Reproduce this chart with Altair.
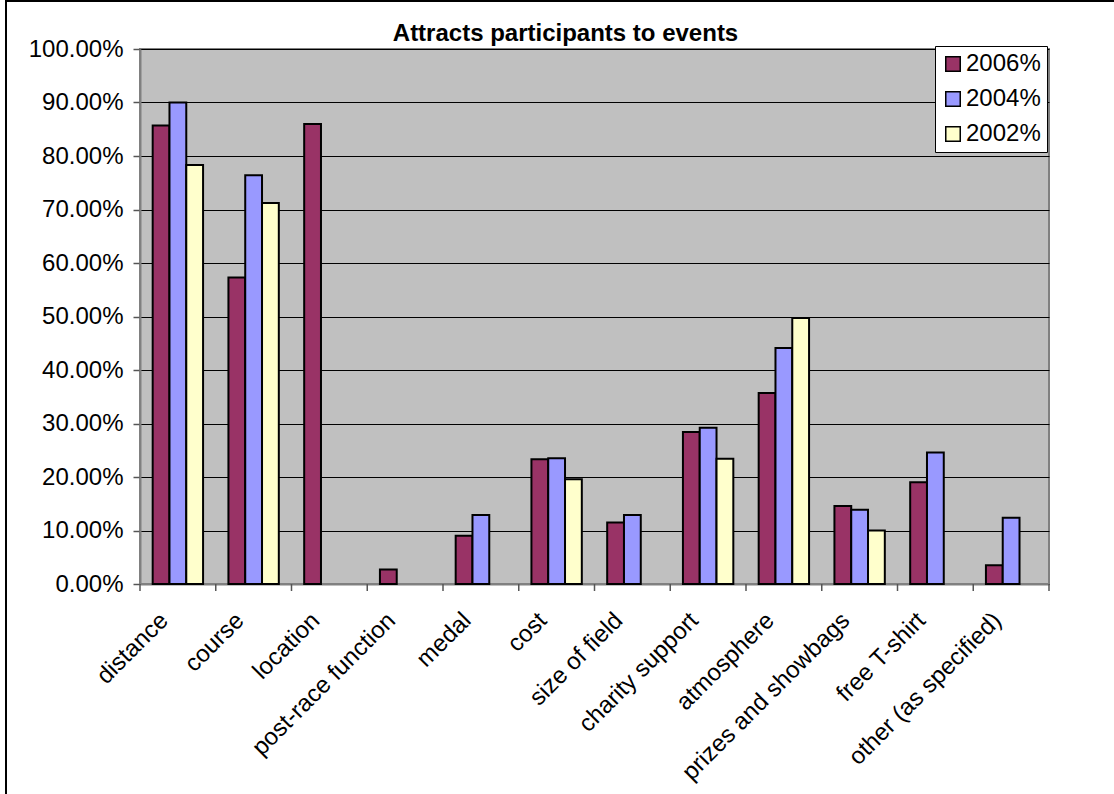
import altair as alt
import pandas as pd

# Survey: what attracts participants to events (share of respondents)
categories = [
    "distance", "course", "location", "post-race function", "medal", "cost",
    "size of field", "charity support", "atmosphere", "prizes and showbags",
    "free T-shirt", "other (as specified)",
]
series = ["2006%", "2004%", "2002%"]
pct_2006 = [0.857, 0.573, 0.860, 0.027, 0.090, 0.233, 0.115, 0.284, 0.357, 0.146, 0.190, 0.035]
pct_2004 = [0.900, 0.764, None, None, 0.129, 0.235, 0.129, 0.292, 0.441, 0.139, 0.246, 0.124]
pct_2002 = [0.783, 0.712, None, None, None, 0.196, None, 0.234, 0.497, 0.100, None, None]
colors = ["#993366", "#9999FF", "#FFFFCC"]
y_ticks = [i / 10 for i in range(11)]

rows = []
for name, vals in zip(series, [pct_2006, pct_2004, pct_2002]):
    for cat, v in zip(categories, vals):
        if v is not None:
            rows.append({"category": cat, "series": name, "value": v})
df = pd.DataFrame(rows)

W, H = 909, 535
FONT = "Liberation Sans"
FS = 24

x_scale = alt.Scale(domain=categories, paddingInner=0, paddingOuter=0)
x_axis = alt.Axis(
    title=None,
    ticks=False,
    labelAngle=-45,
    labelAlign="right",
    labelBaseline="bottom",
    labelPadding=41,
    labelOffset=-5,
    labelFontSize=FS,
    labelFont=FONT,
    labelColor="black",
    labelLimit=400,
    domainColor="#808080",
    domainWidth=2,
    grid=False,
)

bars = alt.Chart(df).mark_bar(stroke="black", strokeWidth=2).encode(
    x=alt.X("category:N", scale=x_scale, sort=categories, axis=x_axis),
    xOffset=alt.XOffset(
        "series:N",
        sort=series,
        scale=alt.Scale(domain=series, paddingInner=0, paddingOuter=0.755),
    ),
    y=alt.Y(
        "value:Q",
        scale=alt.Scale(domain=[0, 1], nice=False),
        axis=alt.Axis(
            title=None,
            values=y_ticks,
            format=".2%",
            labelFontSize=FS,
            labelFont=FONT,
            labelColor="black",
            labelPadding=10,
            tickSize=7,
            tickColor="#555555",
            tickWidth=1.5,
            domainColor="#808080",
            domainWidth=2,
            grid=True,
            gridColor="black",
            gridWidth=1,
            gridOpacity=1,
        ),
    ),
    color=alt.Color(
        "series:N",
        sort=series,
        scale=alt.Scale(domain=series, range=colors),
        legend=alt.Legend(
            title=None,
            orient="none",
            legendX=795,
            legendY=-3,
            fillColor="white",
            strokeColor="black",
            padding=6,
            symbolType="square",
            symbolSize=210,
            symbolStrokeColor="black",
            symbolStrokeWidth=1.5,
            labelFontSize=FS,
            labelFont=FONT,
            labelColor="black",
            labelOffset=1,
            rowPadding=11,
        ),
    ),
)

# category boundary ticks below the x axis
tick_df = pd.DataFrame({"category": categories})
cat_ticks = alt.Chart(tick_df).mark_rule(color="#555555", strokeWidth=1.5).encode(
    x=alt.X("category:N", sort=categories, scale=x_scale, bandPosition=0, axis=x_axis),
    y=alt.value(H),
    y2=alt.value(H + 7),
)
end_tick = alt.Chart(alt.Data(values=[{}])).mark_rule(color="#555555", strokeWidth=1.5).encode(
    x=alt.value(W), y=alt.value(H), y2=alt.value(H + 7)
)

# outer chart frame
frame = alt.Chart(alt.Data(values=[{}])).mark_rect(
    fill="transparent", stroke="black", strokeWidth=2
).encode(
    x=alt.value(-134), x2=alt.value(W + 200), y=alt.value(-48), y2=alt.value(H + 300)
)

chart = (
    alt.layer(bars, cat_ticks, end_tick, frame)
    .properties(
        width=W,
        height=H,
        title=alt.TitleParams(
            "Attracts participants to events",
            fontSize=FS,
            font=FONT,
            fontWeight="bold",
            color="black",
            anchor="middle",
            frame="group",
            dx=-29,
            offset=-46,
        ),
        autosize=alt.AutoSizeParams(type="none"),
        padding={"left": 140, "top": 49, "right": 65, "bottom": 210},
        background="white",
    )
    .configure_view(fill="#C0C0C0", stroke="#808080", strokeWidth=2)
)

chart.save("out.html", embed_options={"renderer": "svg", "actions": False})
